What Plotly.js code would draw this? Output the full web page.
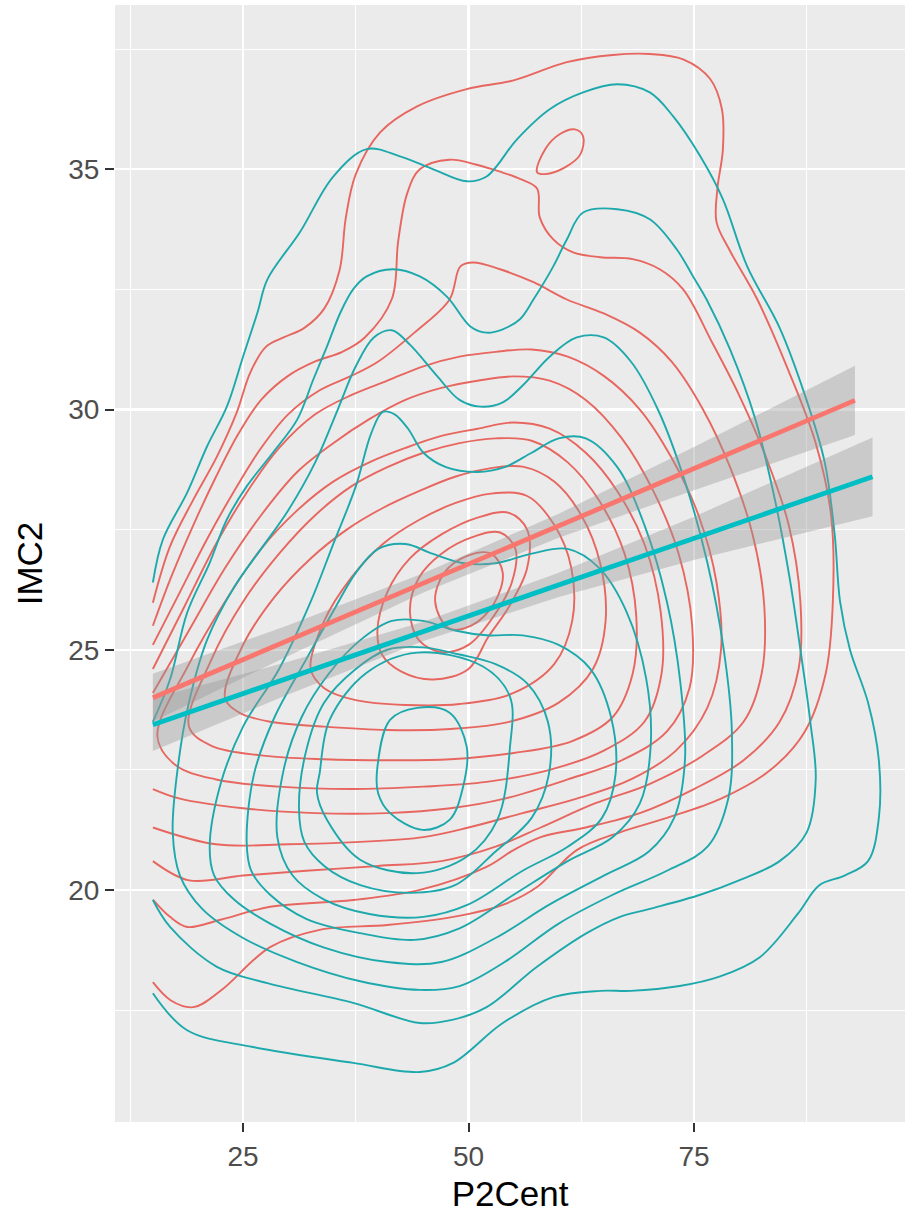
<!DOCTYPE html>
<html><head><meta charset="utf-8">
<script src="https://cdn.plot.ly/plotly-3.0.1.min.js"></script>
<style>html,body{margin:0;padding:0;background:#fff}</style>
</head><body><div id="chart" style="width:907px;height:1217px"></div>
<script>
// ---- contour lines of the 2D density (x = P2Cent, y = IMC2) ----
const red01 = [[15,25.98],[16.9,27.15],[19.5,28.13],[22.1,29.02],[24.3,29.94],[25.8,30.77],[27.5,31.3],[29.5,31.5],[31.8,31.7],[34,32.1],[35.7,32.9],[36.4,34.0],[37.5,34.9],[40.2,35.77],[44.3,36.31],[49.8,36.67],[55,36.85],[60.9,37.23],[66,37.38],[70.1,37.4],[73.8,37.29],[76.8,36.88],[78.1,36.25],[78.2,35.4],[77.6,34.6],[77.5,33.9],[79,33.3],[82,32.3],[85.5,30.8],[88.5,29.3],[90.2,27.8],[90.4,26.0],[89.6,24.5],[87.3,23.3],[83.5,22.5],[78,21.9],[72,21.5],[66.8,21.2],[62,20.83],[57.6,20.06],[53.8,19.69],[48.3,19.44],[41,19.27],[33.5,19.17],[28,18.81],[22.5,17.9],[19.5,17.56],[17,17.7],[15,18.08]];
const red02 = [[15,25.5],[17,26.5],[19.5,27.6],[22,28.6],[24.5,29.5],[27,30.2],[30,30.7],[33,31.0],[36,31.2],[38.5,31.5],[41.5,32.3],[42.2,33.5],[43.2,34.5],[44.6,35.0],[47.9,35.2],[50.8,35.1],[53.5,34.95],[55.7,34.8],[57.6,34.6],[57.9,34.0],[59.4,33.54],[61.6,33.27],[64.6,33.17],[68.2,33.13],[71.2,32.92],[73.8,32.5],[77,31.4],[80,30.3],[83,29.0],[85.5,27.6],[86.8,26.0],[86.6,24.6],[84.5,23.5],[80.5,22.7],[75,22.1],[69,21.6],[63,21.3],[58,21.1],[55,20.83],[52,20.48],[44.6,20.0],[37.2,19.79],[28,19.65],[22.5,19.38],[18.8,19.23],[16.9,19.44],[15,19.8]];
const red03 = [[15,25.1],[18,26.2],[21,27.3],[24,28.3],[27,29.2],[30,29.9],[33.5,30.4],[37,30.7],[40,31.0],[44,31.6],[47.9,32.29],[49.1,32.98],[50.5,33.06],[53.5,32.92],[57.2,32.65],[60.9,32.29],[65,32.0],[69,31.6],[72.5,31.0],[76,30.0],[79,28.8],[81.5,27.4],[82.8,25.9],[82.5,24.5],[80.5,23.5],[76,22.8],[70,22.2],[64,21.8],[58,21.3],[53,20.9],[47,20.6],[40,20.5],[32,20.4],[25,20.3],[19,20.2],[15,20.6]];
const red04 = [[15,24.6],[18.5,25.9],[22,27.2],[25.5,28.3],[29,29.2],[33,29.9],[37,30.3],[41,30.6],[45,30.9],[49,31.1],[53,31.2],[57,31.25],[61,31.1],[65,30.7],[69,30.0],[72.5,29.0],[75.5,27.8],[77.5,26.4],[78,25.0],[76.5,23.8],[73,22.9],[68,22.3],[62,21.9],[56,21.6],[50,21.3],[45,21.1],[38,21.0],[30,20.95],[22,20.95],[15,21.3]];
const red05 = [[15,24.1],[19,25.4],[23,26.7],[27,27.8],[31,28.7],[35,29.3],[39,29.8],[43,30.2],[47,30.45],[51,30.6],[55,30.69],[59,30.6],[63,30.2],[67,29.4],[70.5,28.3],[73.3,27.0],[74.8,25.5],[74.5,24.2],[72,23.3],[67,22.7],[61,22.3],[54,21.9],[48,21.7],[41,21.6],[33,21.6],[25,21.7],[18,21.9],[15,22.1]];
const red06 = [[15.5,23.2],[19,24.7],[23,26.0],[27,27.1],[31,27.9],[35,28.5],[39,28.9],[43,29.2],[47,29.45],[51,29.6],[55,29.73],[59,29.6],[63,29.1],[66.5,28.3],[69.5,27.2],[71.3,25.8],[71.4,24.5],[69.5,23.5],[65,22.9],[59,22.5],[52,22.25],[45,22.15],[37,22.1],[29,22.15],[22,22.3],[17.5,22.6],[15.5,23.2]];
const red07 = [[19,23.4],[21.5,24.8],[25,26.0],[29,27.0],[33,27.8],[37,28.4],[41,28.8],[45,29.1],[49,29.3],[53,29.4],[57,29.35],[61,28.9],[64.5,28.1],[67.3,27.0],[68.6,25.7],[68.2,24.5],[66,23.6],[61.5,23.1],[55,22.85],[48,22.72],[41,22.7],[34,22.72],[27,22.8],[21.5,23.0],[19,23.4]];
const red08 = [[23,24.0],[25,25.1],[28.5,26.1],[32.5,26.9],[36.5,27.5],[40.5,27.95],[44.5,28.3],[48.5,28.6],[52.5,28.78],[56,28.81],[59.5,28.5],[62.5,27.8],[64.6,26.8],[65.2,25.6],[63.8,24.6],[60,23.9],[54.5,23.5],[48,23.35],[41,23.33],[34,23.4],[28,23.5],[24.5,23.7],[23,24.0]];
const red09 = [[32.5,24.6],[34,25.6],[37,26.5],[40.5,27.2],[44.5,27.7],[48.5,28.05],[52.5,28.25],[56.5,28.2],[59.5,27.6],[61.4,26.7],[61.5,25.6],[59.5,24.7],[55,24.1],[49,23.87],[43,23.85],[37.5,23.95],[34,24.2],[32.5,24.6]];
const red10 = [[39.9,25.4],[41,26.2],[43.5,26.9],[47,27.4],[51,27.75],[54.5,27.85],[56.5,27.5],[56.5,26.7],[54.5,25.9],[52.2,25.27],[50,24.6],[46.1,24.38],[42.5,24.55],[40.4,24.9],[39.9,25.4]];
const red11 = [[43.5,25.8],[44.5,26.5],[47,27.0],[50.5,27.35],[53.5,27.44],[55.2,27.1],[54.8,26.4],[52.8,25.7],[50,25.1],[47,24.95],[44.5,25.2],[43.5,25.8]];
const red12 = [[46.3,26.0],[47.3,26.6],[49.8,26.95],[52.5,27.0],[53.8,26.6],[52.8,25.95],[50.3,25.5],[47.8,25.45],[46.3,26.0]];
const red13 = [[57.6,34.94],[58.5,35.42],[60.1,35.73],[61.8,35.83],[62.7,35.69],[62.4,35.31],[60.7,35.04],[58.5,34.9],[57.6,34.94]];

const teal01 = [[15,26.4],[16.1,27.29],[18.8,28.27],[21,29.23],[23.2,30.06],[25,31.1],[26.6,32.02],[27.7,32.71],[31.3,33.69],[35,34.85],[38.7,35.42],[42.4,35.27],[46.1,35.0],[49.8,34.75],[52,34.85],[55.4,35.63],[59,36.25],[62.7,36.6],[66.5,36.77],[70.1,36.6],[72.7,36.1],[75.7,35.27],[78.2,34.38],[80.9,32.98],[84.5,31.7],[87.3,30.3],[89.5,28.9],[90.6,27.4],[91.2,26.0],[92.3,25.0],[94.3,23.9],[95.5,22.7],[95.5,21.5],[94.3,20.6],[91.7,20.3],[88.9,20.1],[86.5,19.5],[82.3,18.6],[77.9,18.2],[73.4,18.0],[68,17.9],[64.6,17.9],[59.4,17.77],[53.8,17.23],[48.3,16.4],[44.6,16.21],[37.2,16.4],[26.1,16.73],[18.8,17.08],[15,17.85]];
const teal02 = [[15,23.5],[16.9,24.38],[18.8,25.77],[21.3,26.81],[23.2,27.71],[25.4,28.4],[28.3,29.1],[31,29.79],[32.8,30.63],[34.3,31.31],[35.8,32.02],[37.2,32.5],[38.7,32.77],[41.6,32.92],[44.6,32.77],[47.6,32.35],[50.2,31.73],[52,31.6],[53.8,31.67],[55.7,31.88],[57.2,32.29],[59.4,32.98],[60.9,33.54],[62.7,34.1],[66.5,34.17],[70.1,33.96],[73.1,33.33],[74.9,32.77],[76.4,32.29],[79,31.25],[81.8,29.8],[84,28.1],[85.6,26.5],[86.8,25],[87.9,23.5],[88.5,22.3],[87.5,21.2],[84.5,20.6],[80,20.2],[75.7,19.9],[70,19.6],[66.8,19.44],[63.1,19.1],[57.6,18.4],[52,17.56],[48.3,17.3],[44.6,17.23],[37.2,17.65],[27.7,18.06],[22.1,18.4],[16.9,19.23],[15,19.79]];
const teal03 = [[17.2,21.2],[17.8,22.6],[19,23.9],[21,25.2],[24,26.3],[27,27.1],[30,27.9],[33,28.9],[35.5,30.0],[37.5,30.9],[39.5,31.5],[41.5,31.65],[43.5,31.35],[46.5,30.7],[49,30.2],[51.3,30.06],[53.8,30.15],[56,30.5],[59,31.1],[62,31.5],[65,31.5],[68,31.0],[71,30.0],[74,28.5],[76.5,26.8],[78.3,25.0],[79.2,23.3],[78.8,21.9],[76.5,20.9],[72,20.4],[66,19.9],[60,19.3],[54,18.5],[49,18.0],[44.6,17.92],[38,18.1],[31,18.5],[25,19.0],[20.5,19.6],[18,20.3],[17.2,21.2]];
const teal04 = [[21.3,20.9],[22.5,22.2],[25,23.4],[29,24.6],[32.5,26.0],[35,27.2],[37.5,28.4],[39.2,29.5],[40.5,29.95],[41.8,29.9],[43.3,29.6],[45,29.1],[47.5,28.8],[51,28.7],[54,28.8],[57,29.1],[60,29.4],[63,29.4],[66.5,28.8],[69.5,27.6],[72,26.0],[73.5,24.3],[74,22.7],[72.8,21.5],[70,20.8],[65,20.3],[59,19.7],[53,19.0],[47,18.5],[41,18.5],[34,18.8],[28,19.3],[24,19.8],[21.8,20.3],[21.3,20.9]];
const teal05 = [[25.4,21.0],[26.2,22.4],[28.5,23.6],[32,24.8],[35,25.8],[37.5,26.6],[40,27.1],[43,27.2],[46,27.0],[49.5,26.8],[53,26.8],[57,27.0],[61,27.1],[64.5,26.7],[67.5,25.8],[69.7,24.4],[70.2,23.0],[69,21.8],[66,21.1],[61,20.6],[55,19.9],[49,19.2],[44,18.96],[38,19.1],[32,19.4],[28,19.9],[25.9,20.4],[25.4,21.0]];
const teal06 = [[28.8,21.1],[29.5,22.5],[31.5,23.6],[34.5,24.5],[38,25.2],[41.5,25.6],[45,25.6],[48.5,25.4],[52,25.3],[56,25.3],[60,25.1],[63.5,24.6],[65.8,23.6],[66.3,22.4],[64.8,21.5],[61,20.9],[56,20.4],[50,19.7],[45,19.44],[39,19.5],[34,19.8],[30.5,20.3],[28.8,21.1]];
const teal07 = [[31.2,21.7],[32,22.9],[34,23.9],[37.5,24.6],[41,25.0],[45,25.05],[49,24.9],[53,24.7],[56.5,24.3],[58.8,23.5],[58.9,22.4],[57,21.5],[53,20.8],[48.5,20.1],[43.5,19.94],[38,20.1],[34,20.5],[31.8,21.0],[31.2,21.7]];
const teal08 = [[33.2,22.02],[33.5,22.44],[34.6,23.54],[38.7,24.52],[44.3,24.94],[51.6,24.65],[54.6,24.02],[54.6,22.98],[53.2,21.46],[49.8,20.69],[44.3,20.35],[37.98,20.63],[34.3,21.46],[33.2,22.02]];
const teal09 = [[39.9,22.56],[41.3,23.54],[44.3,23.79],[47.9,23.69],[49.8,22.98],[49.4,22.15],[47.9,21.46],[44.9,21.25],[41.3,21.6],[39.97,22.02],[39.9,22.56]];

const redLevels = [red01, red02, red03, red04, red05, red06, red07, red08, red09, red10, red11, red12, red13];
const tealLevels = [teal01, teal02, teal03, teal04, teal05, teal06, teal07, teal08, teal09];

// ---- linear fits (geom_smooth, method = lm) ----
const redFitX = [15, 30, 45, 60, 75, 92.85];
const redFitY = [24.0, 25.19, 26.39, 27.58, 28.77, 30.19];
const redFitLo = [23.5, 24.87, 26.19, 27.33, 28.32, 29.47];
const redFitHi = [24.5, 25.51, 26.59, 27.83, 29.22, 30.91];
const tealFitX = [15, 30, 45, 60, 75, 94.8];
const tealFitY = [23.44, 24.41, 25.38, 26.35, 27.32, 28.6];
const tealFitLo = [22.89, 24.07, 25.18, 26.10, 26.87, 27.78];
const tealFitHi = [23.99, 24.75, 25.58, 26.60, 27.77, 29.42];

// ---- axis ticks ----
const xTicks = [25, 50, 75];
const xMinor = [12.5, 37.5, 62.5, 87.5];
const yTicks = [20, 25, 30, 35];
const yMinor = [17.5, 22.5, 27.5, 32.5, 37.5];

const RED = '#F8766D', TEAL = '#00BFC4';
const RED_C = '#E7665F', TEAL_C = '#1DA9AC';
const traces = [];
function contourTrace(pts, color) {
  return {type: 'scatter', mode: 'lines', x: pts.map(p => p[0]), y: pts.map(p => p[1]),
    line: {color: color, width: 1.9, shape: 'spline', smoothing: 1.0}, hoverinfo: 'skip', showlegend: false};
}
redLevels.forEach(c => traces.push(contourTrace(c, RED_C)));
tealLevels.forEach(c => traces.push(contourTrace(c, TEAL_C)));
function band(xs, lo, hi) {
  return {type: 'scatter', mode: 'lines', x: xs.concat(xs.slice().reverse()), y: lo.concat(hi.slice().reverse()),
    fill: 'toself', fillcolor: 'rgba(153,153,153,0.4)', line: {width: 0}, hoverinfo: 'skip', showlegend: false};
}
traces.push(band(redFitX, redFitLo, redFitHi));
traces.push(band(tealFitX, tealFitLo, tealFitHi));
traces.push({type: 'scatter', mode: 'lines', x: redFitX, y: redFitY, line: {color: RED, width: 4.8}, showlegend: false});
traces.push({type: 'scatter', mode: 'lines', x: tealFitX, y: tealFitY, line: {color: TEAL, width: 4.8}, showlegend: false});

const layout = {
  width: 907, height: 1217,
  margin: {l: 115, r: 2, t: 5, b: 95},
  paper_bgcolor: '#ffffff', plot_bgcolor: '#EBEBEB',
  showlegend: false,
  font: {family: 'Liberation Sans, Arial, sans-serif'},
  xaxis: {
    range: [10.8, 98.4], tickvals: xTicks, ticktext: xTicks.map(String),
    showgrid: true, gridcolor: '#ffffff', gridwidth: 2.2, zeroline: false,
    ticks: 'outside', ticklen: 9, tickwidth: 2, tickcolor: '#333333',
    tickfont: {size: 28, color: '#4D4D4D'},
    minor: {tickvals: xMinor, showgrid: true, gridcolor: '#ffffff', gridwidth: 1.1, ticks: ''},
    title: {text: 'P2Cent', font: {size: 35, color: '#000000'}, standoff: 10},
    showline: false
  },
  yaxis: {
    range: [15.17, 38.42], tickvals: yTicks, ticktext: yTicks.map(String),
    showgrid: true, gridcolor: '#ffffff', gridwidth: 2.2, zeroline: false,
    ticks: 'outside', ticklen: 9, tickwidth: 2, tickcolor: '#333333',
    tickfont: {size: 28, color: '#4D4D4D'},
    minor: {tickvals: yMinor, showgrid: true, gridcolor: '#ffffff', gridwidth: 1.1, ticks: ''},
    title: {text: 'IMC2', font: {size: 35, color: '#000000'}, standoff: 14},
    showline: false
  }
};
Plotly.newPlot('chart', traces, layout, {staticPlot: true, displayModeBar: false});
</script></body></html>
